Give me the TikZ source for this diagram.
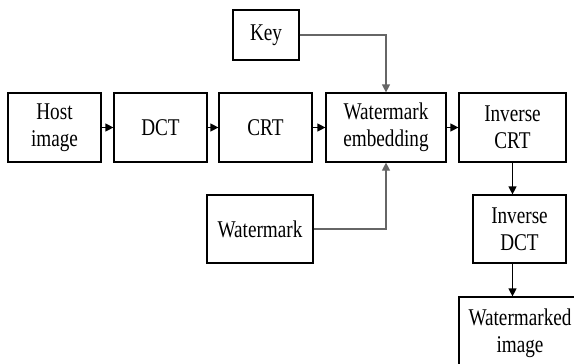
\documentclass[tikz,border=0pt]{standalone}
\usepackage{fontspec}
\setmainfont{Liberation Serif}[FakeStretch=0.8]
\usetikzlibrary{arrows.meta}

\begin{document}
		\begin{tikzpicture}[x=1pt,y=-1pt,
				block/.style={draw, line width=1.2pt, align=center, inner sep=0pt,
					font=\fontsize{24}{27}\selectfont},
				flow/.style={line width=1.2pt, -{Triangle[length=8pt,width=8pt]}},
				feed/.style={flow, draw=black!60}]
			\useasboundingbox (0,0) rectangle (574,364);
			\clip (0,0) rectangle (574,364);
			\node (host) [block, minimum width=93pt, minimum height=69pt] at (54.5,127.5) {Host\\image};
			\node (dct) [block, minimum width=93pt, minimum height=69pt] at (160.5,127.5) {DCT};
			\node (crt) [block, minimum width=93pt, minimum height=69pt] at (265.5,127.5) {CRT};
			\node (emb) [block, minimum width=120pt, minimum height=69pt] at (386,127.5) {Watermark\\embedding};
			\node (icrt) [block, minimum width=107pt, minimum height=69pt] at (512.5,127.5) {Inverse\\CRT};
			\node (key) [block, minimum width=66pt, minimum height=50pt] at (266,35) {Key};
			\node (wm) [block, minimum width=106pt, minimum height=68pt] at (260,229) {Watermark};
			\node (idct) [block, minimum width=93pt, minimum height=68pt] at (519.5,229) {Inverse\\DCT};
			\node (wmi) [block, minimum width=122pt, minimum height=72pt, text width=118pt] at (520,333) {Watermarked\\image};
			% main chain
			\draw [flow] (host) -- (dct);
			\draw [flow] (dct) -- (crt);
			\draw [flow] (crt) -- (emb);
			\draw [flow] (emb) -- (icrt);
			\draw [flow] (icrt.south) -- (icrt.south |- idct.north);
			\draw [flow] (idct.south -| icrt) -- (icrt |- wmi.north);
			% key and watermark inputs
			\draw [feed] (key.east) -| (emb.north);
			\draw [feed] (wm.east) -| (emb.south);
		\end{tikzpicture}
\end{document}
